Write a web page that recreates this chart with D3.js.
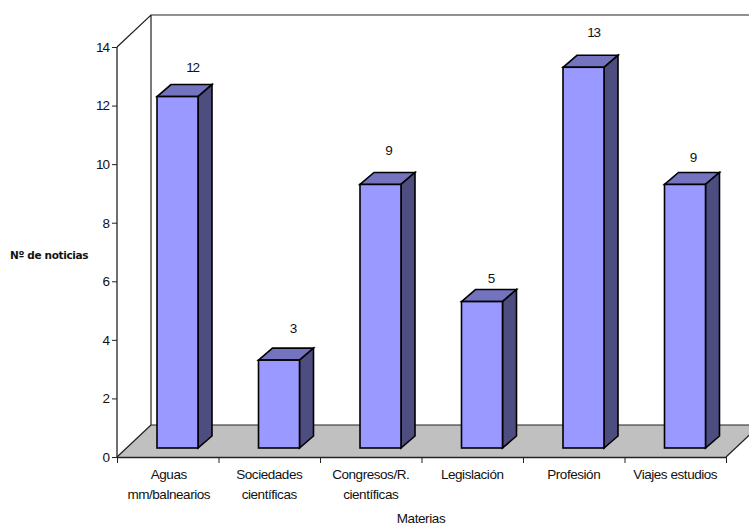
<!DOCTYPE html>
<html><head><meta charset="utf-8">
<script src="https://cdn.jsdelivr.net/npm/d3@7"></script>
<style>html,body{margin:0;padding:0;background:#fff;overflow:hidden}svg{display:block}text{font-family:"Liberation Sans",Arial,sans-serif;fill:#111}</style>
</head><body><svg id="c" width="749" height="525"></svg>
<script>
const categories=[["Aguas","mm/balnearios"],["Sociedades","científicas"],["Congresos/R.","científicas"],["Legislación"],["Profesión"],["Viajes estudios"]];
const values=[12,3,9,5,13,9];
const yTicks=[0,2,4,6,8,10,12,14];
const labelNudgeX=[5,4,-2,-1,0,-2];
const labelNudgeY=[5,3,1,11,0,8];

const svg=d3.select("#c");
const L=117,R=726,B=457,T=47,DX=34,DY=32,BD=14,BH=12;
const x=d3.scaleBand().domain(d3.range(values.length)).range([L,R]).paddingInner(0).paddingOuter(0);
const xEdge=d3.scaleLinear().domain([0,values.length]).range([L,R]);
const y=d3.scaleLinear().domain([0,14]).range([B,T]);
const poly=p=>p.map(q=>q.join(",")).join(" ");

svg.append("polygon").attr("points",poly([[L,B],[L+DX,B-DY],[R+DX,B-DY],[R,B]])).attr("fill","#c0c0c0");
svg.append("path").attr("d",`M${L},${T}L${L+DX},${T-DY}L${R+DX},${T-DY}M${L+DX},${T-DY}V${B-DY}H${R+DX}M${L},${B}L${L+DX},${B-DY}M${R},${B}L${R+DX},${B-DY}`)
  .attr("fill","none").attr("stroke","#222").attr("stroke-width",1.2);

const w=41,off=40,base=9;
const g=svg.selectAll("g.bar").data(values).join("g").attr("class","bar");
const bx=(d,i)=>x(i)+off;
const barTop=d=>y(d)-base;
g.append("polygon").attr("points",(d,i)=>poly([[bx(d,i),barTop(d)],[bx(d,i)+BD,barTop(d)-BH],[bx(d,i)+w+BD,barTop(d)-BH],[bx(d,i)+w,barTop(d)]])).attr("fill","#7373bf");
g.append("polygon").attr("points",(d,i)=>poly([[bx(d,i)+w,barTop(d)],[bx(d,i)+w+BD,barTop(d)-BH],[bx(d,i)+w+BD,B-base-BH],[bx(d,i)+w,B-base]])).attr("fill","#4d4d80");
g.append("rect").attr("x",bx).attr("y",barTop).attr("width",w).attr("height",d=>B-base-barTop(d)).attr("fill","#9999ff");
g.selectAll("polygon,rect").attr("stroke","#000").attr("stroke-width",1.6).attr("stroke-linejoin","miter");
g.append("text").attr("x",(d,i)=>bx(d,i)+w/2+10+labelNudgeX[i]).attr("y",(d,i)=>barTop(d)-30+labelNudgeY[i]).attr("text-anchor","middle").attr("font-size",13.5).attr("letter-spacing",-1.2).text(d=>d);

const ay=svg.append("g").attr("transform",`translate(${L},0)`).call(d3.axisLeft(y).tickValues(yTicks).tickSize(5).tickPadding(3).tickFormat(d3.format("d")));
ay.selectAll("text").attr("font-size",13.5).attr("letter-spacing",-1);
const ax=svg.append("g").attr("transform",`translate(0,${B})`).call(d3.axisBottom(xEdge).ticks(values.length).tickSize(6).tickFormat(""));
[ay,ax].forEach(a=>{a.select(".domain").attr("stroke","#222").attr("stroke-width",1.3);a.selectAll("line").attr("stroke","#222");a.attr("font-family",null)});
ax.select(".domain").attr("d",`M${L},0.5H${R}`);
ay.select(".domain").attr("d",`M0,${T}V${B}`);

const lab=svg.selectAll("text.cat").data(categories).join("text").attr("class","cat").attr("text-anchor","middle").attr("font-size",13.5).attr("letter-spacing",-0.45);
lab.selectAll("tspan").data((d,i)=>d.map(s=>({s,i}))).join("tspan")
  .attr("x",d=>x(d.i)+x.bandwidth()/2+(d.i===0?1:0)).attr("y",(d,j)=>479+j*20).text(d=>d.s);
svg.append("text").attr("x",421).attr("y",523).attr("text-anchor","middle").attr("font-size",13.5).attr("letter-spacing",-0.4).text("Materias");
svg.append("text").attr("x",10).attr("y",259).attr("font-size",10.5).attr("font-weight","bold").attr("letter-spacing",-0.35).style("font-family","'DejaVu Sans'").text("Nº de noticias");
</script></body></html>
